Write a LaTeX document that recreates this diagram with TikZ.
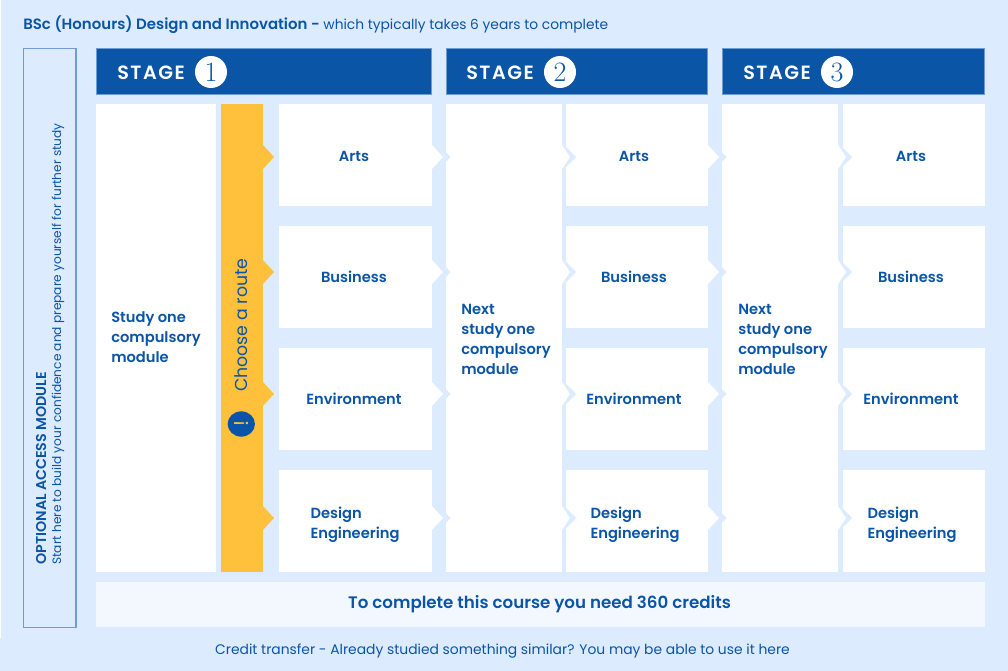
\documentclass[tikz,border=0pt]{standalone}
\usepackage{fontspec}
\setmainfont[BoldFont={Poppins SemiBold}]{Poppins}
\newfontfamily\numfont{Latin Modern Roman}
\newfontfamily\stagefont[LetterSpace=8,BoldFont={Poppins SemiBold}]{Poppins}
\usetikzlibrary{positioning,shapes.geometric}
\definecolor{sky}   {HTML}{DCEBFE}
\definecolor{pale}  {HTML}{F3F8FF}
\definecolor{navy}  {HTML}{0B55A6}
\definecolor{amber} {HTML}{FFC13B}
\definecolor{edge}  {HTML}{6F9BD3}
\tikzset{
  routetext/.style={font=\fontsize{11}{15}\selectfont\bfseries,text=navy,align=left,inner sep=0pt},
  stagetext/.style={font=\fontsize{14.4}{18}\stagefont\bfseries,text=white,anchor=west,inner sep=0pt},
  numdisc/.style={circle,fill=white,inner sep=0pt,minimum size=24pt,text=navy,font=\fontsize{21}{21}\numfont},
  sidetext/.style={rotate=90,anchor=west,text=navy,inner sep=0pt},
  stagebar/.style={fill=navy,draw=edge,line width=0.4pt},
}
\newcommand{\chev}[4]{\fill[#1] (#2,#4-12) -- (#3,#4) -- (#2,#4+12) -- cycle;}
\begin{document}
\begin{tikzpicture}[x=0.75pt,y=-0.75pt]
\useasboundingbox (0,0) rectangle (1008,671);
\fill[sky] (0,0) rectangle (1008,671);
\fill[white] (0,0) rectangle (1,638);
\draw[edge,line width=0.8pt] (23.5,48.5) rectangle (76,627.5);
\path[stagebar] (96,48) rectangle (431.7,94);
\path[stagebar] (446,48) rectangle (707.7,94);
\path[stagebar] (722,48) rectangle (984.7,94);
\fill[white] (96,104) rectangle (216,572);
\fill[amber] (220.5,104) rectangle (263,572);
\fill[white] (279,104) rectangle (432,206);
\fill[white] (279,226) rectangle (432,328);
\fill[white] (279,348) rectangle (432,450);
\fill[white] (279,470) rectangle (432,572);
\fill[white] (446,104) rectangle (562,572);
\fill[white] (566,104) rectangle (708,206);
\fill[white] (566,226) rectangle (708,328);
\fill[white] (566,348) rectangle (708,450);
\fill[white] (566,470) rectangle (708,572);
\fill[white] (722,104) rectangle (838,572);
\fill[white] (842.5,104) rectangle (985,206);
\fill[white] (842.5,226) rectangle (985,328);
\fill[white] (842.5,348) rectangle (985,450);
\fill[white] (842.5,470) rectangle (985,572);
\fill[pale] (96,582) rectangle (985,627);
\chev{amber}{263}{274}{157}
\chev{amber}{263}{274}{272}
\chev{amber}{263}{274}{394}
\chev{amber}{263}{274}{518}
\chev{sky}{438.5}{450.5}{157}
\chev{sky}{438.5}{450.5}{272}
\chev{sky}{438.5}{450.5}{394}
\chev{sky}{438.5}{450.5}{518}
\chev{white}{432}{443}{157}
\chev{white}{432}{443}{272}
\chev{white}{432}{443}{394}
\chev{white}{432}{443}{518}
\chev{sky}{564}{576}{157}
\chev{sky}{564}{576}{272}
\chev{sky}{564}{576}{394}
\chev{sky}{564}{576}{518}
\chev{white}{562}{570}{157}
\chev{white}{562}{570}{272}
\chev{white}{562}{570}{394}
\chev{white}{562}{570}{518}
\chev{sky}{714.5}{726.5}{157}
\chev{sky}{714.5}{726.5}{272}
\chev{sky}{714.5}{726.5}{394}
\chev{sky}{714.5}{726.5}{518}
\chev{white}{708}{719}{157}
\chev{white}{708}{719}{272}
\chev{white}{708}{719}{394}
\chev{white}{708}{719}{518}
\chev{sky}{840}{852}{157}
\chev{sky}{840}{852}{272}
\chev{sky}{840}{852}{394}
\chev{sky}{840}{852}{518}
\chev{white}{838}{846}{157}
\chev{white}{838}{846}{272}
\chev{white}{838}{846}{394}
\chev{white}{838}{846}{518}
\node[anchor=west,inner sep=0pt,text=navy,font=\fontsize{10.35}{12}\selectfont] (title) at (23,25) {{\fontsize{11.2}{12}\selectfont\bfseries BSc (Honours) Design and Innovation -} which typically takes 6 years to complete};
\node[stagetext] (stageA) at (117,73) {STAGE};
\node[numdisc] (numA) at (211,72) {1};
\node[stagetext] (stageB) at (466,73) {STAGE};
\node[numdisc] (numB) at (560,72) {2};
\node[stagetext] (stageC) at (743,73) {STAGE};
\node[numdisc] (numC) at (837,72) {3};
\node[routetext,anchor=west] (moduleA) at (111,337) {Study one\\compulsory\\module};
\node[routetext,anchor=west] (moduleB) at (461,339) {Next\\study one\\compulsory\\module};
\node[routetext,anchor=west] (moduleC) at (738,339) {Next\\study one\\compulsory\\module};
\node[routetext] (artsA) at (354,156) {Arts};
\node[routetext] (busiA) at (354,277) {Business};
\node[routetext] (enviA) at (354,399) {Environment};
\node[routetext] (engiA) at (355,524.5) {Design\\Engineering};
\node[routetext] (artsB) at (634,156) {Arts};
\node[routetext] (busiB) at (634,277) {Business};
\node[routetext] (enviB) at (634,399) {Environment};
\node[routetext] (engiB) at (635,524.5) {Design\\Engineering};
\node[routetext] (artsC) at (911,156) {Arts};
\node[routetext] (busiC) at (911,277) {Business};
\node[routetext] (enviC) at (911,399) {Environment};
\node[routetext] (engiC) at (912,524.5) {Design\\Engineering};
\node[sidetext,font=\fontsize{13}{16}\selectfont] (route) at (241,392) {Choose a route};
\node[ellipse,fill=navy,inner sep=0pt,minimum width=19pt,minimum height=20.5pt,text=amber,rotate=90,font=\fontsize{15}{15}\selectfont] (mark) at (241.3,424) {!};
\node[sidetext,font=\fontsize{10.7}{12}\selectfont\bfseries] (accessA) at (41,565) {OPTIONAL ACCESS MODULE};
\node[sidetext,font=\fontsize{9.13}{12}\selectfont] (accessB) at (58,565) {Start here to build your confidence and prepare yourself for further study};
\node[text=navy,inner sep=0pt,font=\fontsize{12.5}{14}\selectfont\bfseries] (credits) at (539.5,604) {To complete this course you need 360 credits};
\node[text=navy,inner sep=0pt,font=\fontsize{10.4}{12}\selectfont] (transfer) at (502.5,651) {Credit transfer - Already studied something similar? You may be able to use it here};
\end{tikzpicture}
\end{document}
